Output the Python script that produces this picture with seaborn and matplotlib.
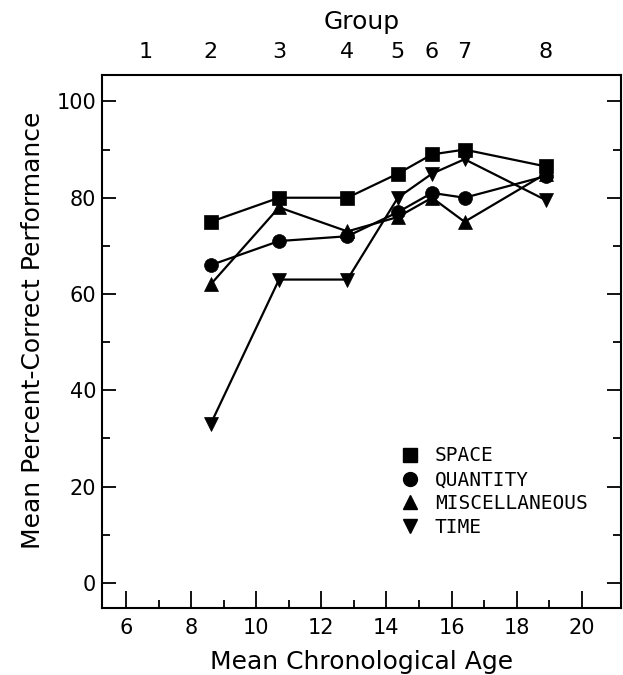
import numpy as np
import pandas as pd
import matplotlib
matplotlib.use("Agg")
import matplotlib.pyplot as plt
from matplotlib.lines import Line2D
import seaborn as sns

# Mean chronological age of each group (groups 2-8)
ages = [8.6, 10.7, 12.8, 14.35, 15.4, 16.4, 18.9]

# Mean percent-correct performance per content domain
space = [75, 80, 80, 85, 89, 90, 86.5]
quantity = [66, 71, 72, 77, 81, 80, 84.5]
miscellaneous = [62, 78, 73, 76, 80, 75, 85]
time = [33, 63, 63, 80, 85, 88, 79.5]

domains = ["SPACE", "QUANTITY", "MISCELLANEOUS", "TIME"]
domain_markers = {"SPACE": "s", "QUANTITY": "o", "MISCELLANEOUS": "^", "TIME": "v"}

# Group numbers shown along the top axis, at each group's mean age
group_labels = ["1", "2", "3", "4", "5", "6", "7", "8"]
group_ages = [6.6] + ages

x_ticks = [6, 8, 10, 12, 14, 16, 18, 20]
y_ticks = [0, 20, 40, 60, 80, 100]

df = pd.DataFrame({
    "age": ages * 4,
    "score": space + quantity + miscellaneous + time,
    "domain": np.repeat(domains, len(ages)),
})

sns.set_style("ticks")
plt.rcParams["font.family"] = ["DejaVu Sans"]
plt.rcParams["text.color"] = "black"
plt.rcParams["axes.labelcolor"] = "black"
plt.rcParams["xtick.color"] = "black"
plt.rcParams["ytick.color"] = "black"

fig = plt.figure(figsize=(6.23, 6.75), dpi=100)
ax = fig.add_axes([0.1632, 0.0988, 0.8332, 0.7901])

sns.lineplot(
    data=df, x="age", y="score", style="domain", style_order=domains,
    markers=domain_markers, dashes=False, color="black", linewidth=1.6,
    markersize=10, markeredgecolor="black", markeredgewidth=0.5,
    legend=False, ax=ax, sort=False,
)

ax.set_xlim(5.25, 21.2)
ax.set_ylim(-5.3, 105.5)
ax.set_xticks(x_ticks)
ax.set_xticks([7, 9, 11, 13, 15, 17, 19], minor=True)
ax.set_yticks(y_ticks)
ax.set_yticks([10, 30, 50, 70, 90], minor=True)

for s in ax.spines.values():
    s.set_linewidth(1.5)
    s.set_color("black")

ax.tick_params(axis="x", which="both", direction="in", top=True, bottom=True,
               labelsize=15, pad=7, width=1.3)
ax.tick_params(axis="x", which="major", length=12)
ax.tick_params(axis="x", which="minor", length=5.5)
ax.tick_params(axis="y", which="both", direction="in", left=True, right=True,
               labelsize=15, pad=4, width=1.3)
ax.tick_params(axis="y", which="major", length=10)
ax.tick_params(axis="y", which="minor", length=5.5)

ax.set_xlabel("Mean Chronological Age", fontsize=18)
ax.xaxis.set_label_coords(0.5, -0.100)
ax.xaxis.label.set_va("center")
ax.set_ylabel("Mean Percent-Correct Performance", fontsize=18)
ax.yaxis.set_label_coords(-0.132, 0.522)
ax.yaxis.label.set_va("center")

# Top axis with group numbers
top = ax.twiny()
top.set_xlim(ax.get_xlim())
top.set_xticks(group_ages)
top.set_xticklabels(group_labels)
top.tick_params(axis="x", length=0, labelsize=16, pad=9)
top.set_xlabel("Group", fontsize=18)
top.xaxis.set_label_coords(0.5, 1.099)
top.xaxis.label.set_va("center")
for s in top.spines.values():
    s.set_visible(False)

handles = [
    Line2D([], [], linestyle="none", marker=domain_markers[d], color="black",
           markersize=10) for d in domains
]
leg = ax.legend(
    handles, domains, loc="upper left", bbox_to_anchor=(0.561, 0.318),
    frameon=False, handlelength=1.0, handletextpad=0.75, labelspacing=0.25,
    borderaxespad=0, prop={"family": "DejaVu Sans Mono", "size": 14},
)

fig.savefig("out.png", dpi=100)
